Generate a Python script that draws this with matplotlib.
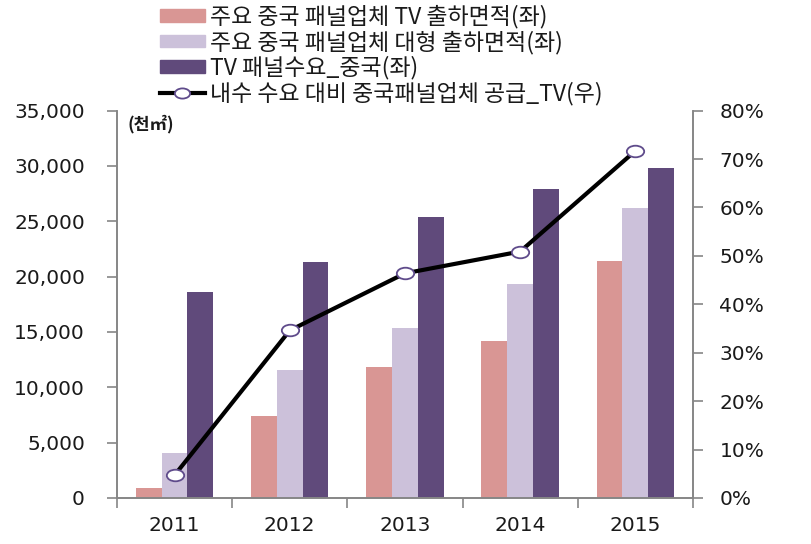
import numpy as np
import matplotlib.pyplot as plt
from matplotlib.path import Path
from matplotlib.transforms import Affine2D
from matplotlib.lines import Line2D
from matplotlib.patches import Patch

plt.rcParams['font.family'] = ['Noto Sans CJK KR', 'DejaVu Sans']

# data
years = ['2011', '2012', '2013', '2014', '2015']
tv_ship = [900, 7400, 11800, 14200, 21400]          # 주요 중국 패널업체 TV 출하면적
large_ship = [4100, 11600, 15400, 19300, 26200]     # 주요 중국 패널업체 대형 출하면적
tv_demand = [18600, 21300, 25400, 27900, 29800]     # TV 패널수요_중국
supply_ratio = [4.7, 34.6, 46.4, 50.9, 71.7]        # 내수 수요 대비 중국패널업체 공급_TV (%)

labels = ['주요 중국 패널업체 TV 출하면적(좌)',
          '주요 중국 패널업체 대형 출하면적(좌)',
          'TV 패널수요_중국(좌)',
          '내수 수요 대비 중국패널업체 공급_TV(우)']

c_pink = '#D99694'
c_light = '#CCC1DA'
c_dark = '#604A7B'
c_edge = '#5F4B8B'
c_axis = '#868686'
c_text = '#1a1a1a'

fig = plt.figure(figsize=(8.12, 5.44), dpi=100)
ax = fig.add_axes([0.144, 0.0846, 0.7094, 0.712])
ax2 = ax.twinx()

x = np.arange(len(years))
w = 0.224
ax.bar(x - w, tv_ship, w, color=c_pink, zorder=2)
ax.bar(x, large_ship, w, color=c_light, zorder=2)
ax.bar(x + w, tv_demand, w, color=c_dark, zorder=2)

# slightly flattened circle, like the reference marker
ell = Affine2D().scale(1.5, 1.0).transform_path(Path.unit_circle())
ax2.plot(x, supply_ratio, color='black', lw=3, marker=ell, markersize=12.5,
         markerfacecolor='white', markeredgecolor=c_edge, markeredgewidth=1.3,
         zorder=3)

ax.set_xlim(-0.5, 4.5)
ax.set_ylim(0, 35000)
ax2.set_ylim(0, 80)
ax.set_yticks(np.arange(0, 35001, 5000))
ax.set_yticklabels([f'{v:,}' for v in range(0, 35001, 5000)])
ax2.set_yticks(np.arange(0, 81, 10))
ax2.set_yticklabels([f'{v}%' for v in range(0, 81, 10)])

ax.set_xticks(x)
ax.set_xticklabels(years)
ax.set_xticks(np.arange(-0.5, 5, 1), minor=True)
ax.tick_params(axis='x', which='major', length=0, pad=13)
ax.tick_params(axis='x', which='minor', length=7, color=c_axis, width=1.2)
ax.tick_params(axis='y', length=7, color=c_axis, width=1.2, pad=16)
ax2.tick_params(axis='y', length=7, color=c_axis, width=1.2, pad=12)

for a in (ax, ax2):
    a.spines['top'].set_visible(False)
    for s in ('left', 'right', 'bottom'):
        a.spines[s].set_color(c_axis)
        a.spines[s].set_linewidth(1.2)
    for lab in a.get_xticklabels() + a.get_yticklabels():
        lab.set_fontfamily('DejaVu Sans')
        lab.set_fontsize(14.5)
        lab.set_color(c_text)

ax.text(0.018, 0.99, '(천㎡)', transform=ax.transAxes, fontsize=12.5,
        fontweight='bold', ha='left', va='top', color=c_text)

handles = [Patch(color=c_pink), Patch(color=c_light), Patch(color=c_dark),
           Line2D([], [], color='black', lw=3, marker=ell, markersize=11,
                  markerfacecolor='white', markeredgecolor=c_edge,
                  markeredgewidth=1.3)]
fig.legend(handles, labels, loc='upper left', bbox_to_anchor=(0.18, 1.016),
           frameon=False, fontsize=16.5, labelspacing=0.08, handlelength=1.95,
           handleheight=0.45, handletextpad=0.22, borderpad=0.1,
           labelcolor=c_text)

fig.savefig('out.png', dpi=100)
